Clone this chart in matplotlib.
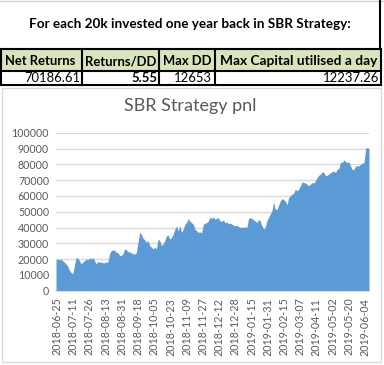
import numpy as np
import matplotlib
matplotlib.use("Agg")
import matplotlib.pyplot as plt
from matplotlib.patches import Rectangle

plt.rcParams['font.family'] = ['Lato', 'DejaVu Sans']

# summary table
table_title = "For each 20k invested one year back in SBR Strategy:"
headers = ["Net Returns", "Returns/DD", "Max DD", "Max Capital utilised a day"]
values = ["70186.61", "5.55", "12653", "12237.26"]

# cumulative pnl (one value per ~1.3 trading days)
pnl = [
    19500, 20000, 19500, 20000, 19000, 18000, 17000, 15600, 13000, 11500,
    10800, 16000, 21000, 20600, 19000, 17000, 18100, 19000, 20000, 19600,
    20600, 20200, 21000, 19000, 17000, 18500, 18100, 18100, 17700, 17700,
    18100, 18100, 23300, 25400, 25800, 25400, 24400, 24000, 22300, 22300,
    23300, 26500, 25800, 24800, 24400, 24000, 23300, 23300, 24000, 30600,
    36900, 35800, 33100, 32300, 30600, 31700, 28500, 27500, 26500, 27500,
    26500, 32700, 31700,
    28500, 29600, 31700, 34800, 35200, 32700, 33700, 35800, 39000, 41000,
    37900, 41000, 36900, 39000, 42100, 43100, 45600, 44100, 43100, 42100,
    39000, 37900, 36900, 37300, 36500, 42100, 42700, 43100, 44100, 46700,
    45600, 46700, 45200, 45800, 46200, 44100, 44100, 44600, 43100, 43500,
    42500, 42700, 42100, 41500, 41000, 41500, 40600, 40000, 40400, 40000,
    40400, 40000, 45600, 46200, 45800, 44800, 44100, 43100, 45200, 44100,
    41200, 39100, 40200, 44300, 46400, 48500, 50600, 55900, 51700, 51300,
    54200, 56900, 58400, 57600, 56900, 54200, 59000, 60100, 61100, 61800,
    64300, 63200, 64300, 66400, 68900, 68500, 68100, 67400, 66400, 67400,
    68500, 68100, 69500, 71600, 73100, 73700, 75200, 74800, 72700, 73100,
    73700, 74800, 75200, 75800, 74800, 76900, 77300, 81500, 81100, 82800,
    81700, 81100, 81500, 79000, 76500, 76900, 79000, 79000, 79000, 80000,
    80700, 81100, 90000, 90700, 90000,
]

date_labels = ["2018-06-25", "2018-07-11", "2018-07-26", "2018-08-13", "2018-08-31",
               "2018-09-18", "2018-10-05", "2018-10-23", "2018-11-09", "2018-11-27",
               "2018-12-12", "2018-12-28", "2019-01-15", "2019-01-31", "2019-02-15",
               "2019-03-07", "2019-04-11", "2019-05-02", "2019-05-20", "2019-06-04"]

fig = plt.figure(figsize=(3.84, 3.65), dpi=100)

# overlay in pixel coords for the table + chart frame
bg = fig.add_axes([0, 0, 1, 1])
bg.set_xlim(0, 384)
bg.set_ylim(365, 0)
bg.axis('off')

green = '#D8E4BC'
bg.add_patch(Rectangle((0, 49), 381, 22, facecolor=green, edgecolor='none'))
bg.plot([0, 384], [1, 1], color='#D0D0D0', lw=1)
bg.plot([380, 380], [1, 49], color='black', lw=1.5)
for yy in [49, 71, 85]:
    bg.plot([0, 381], [yy, yy], color='black', lw=1.5)
for xx in [0.8, 82, 159, 215, 380.5]:
    bg.plot([xx, xx], [49, 85], color='black', lw=1.5)

# chart frame
bg.add_patch(Rectangle((2, 88), 379, 274, facecolor='none', edgecolor='#D9D9D9', lw=1))

bg.text(189.5, 23.5, table_title, ha='center', va='center', fontsize=9.7, fontweight='bold')
hx = [40, 121, 187, 299]
hs = [9.4, 9.4, 9.4, 9.9]
for x, h, s in zip(hx, headers, hs):
    bg.text(x, 61, h, ha='center', va='center', fontsize=s, fontweight='bold')
vx = [80, 157, 212, 379]
for i, (x, v) in enumerate(zip(vx, values)):
    bg.text(x, 78, v, ha='right', va='center', fontsize=9.4,
            fontweight='bold' if i == 1 else 'normal')

bg.text(190, 106, "SBR Strategy pnl", ha='center', va='center', fontsize=13, color='#595959')

# area chart
ax = fig.add_axes([56 / 384, 1 - 290.7 / 365, 313 / 384, 158 / 365])
x = np.arange(len(pnl))
ax.fill_between(x, pnl, 0, color='#5B9BD5', lw=0)
ax.set_xlim(0, len(pnl) - 1)
ax.set_ylim(0, 100000)
ax.set_yticks(np.arange(0, 100001, 10000))
ax.yaxis.grid(True, color='#D9D9D9', lw=1)
ax.set_axisbelow(True)
for s in ['top', 'right', 'left']:
    ax.spines[s].set_visible(False)
ax.spines['bottom'].set_color('#D9D9D9')
ax.set_xticks(np.linspace(0.6, 184.6, len(date_labels)))
ax.set_xticklabels(date_labels, rotation=90)
ax.tick_params(axis='both', length=0, labelsize=7.7, colors='#595959', pad=5)
ax.patch.set_alpha(0)

fig.savefig("out.png", dpi=100)
